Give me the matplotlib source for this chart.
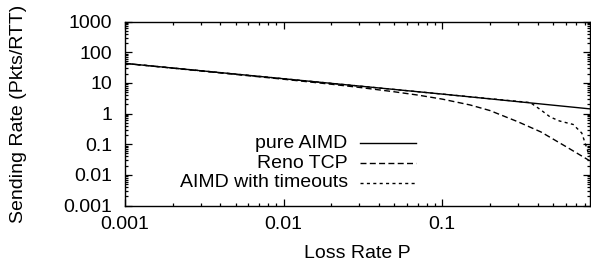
import matplotlib
matplotlib.use("Agg")
import matplotlib.pyplot as plt
from matplotlib.ticker import FixedLocator, LogLocator, NullFormatter, FuncFormatter

plt.rcParams["font.family"] = ["Liberation Sans", "DejaVu Sans"]

# ============================================================
# DATA
# ============================================================

loss_pure = [0.001, 0.01, 0.1, 0.85]
rate_pure = [43.0, 13.6, 4.3, 1.42]

loss_reno = [0.001, 0.01, 0.02, 0.03, 0.05, 0.07, 0.1, 0.15, 0.2, 0.3, 0.42, 0.6, 0.85]
rate_reno = [43.0, 13.1, 9.0, 7.1, 5.1, 4.0, 2.95, 1.9, 1.25, 0.54, 0.25, 0.085, 0.029]

loss_timeout = [0.001, 0.01, 0.1, 0.36, 0.42, 0.48, 0.55, 0.67, 0.76, 0.79, 0.85]
rate_timeout = [43.0, 13.6, 4.3, 2.27, 1.3, 0.77, 0.57, 0.44, 0.23, 0.126, 0.04]

series_labels = ["pure AIMD", "Reno TCP", "AIMD with timeouts"]

x_ticks = [0.001, 0.01, 0.1]
y_ticks = [0.001, 0.01, 0.1, 1, 10, 100, 1000]

# ============================================================
# FIGURE
# ============================================================

fig = plt.figure(figsize=(5.91, 2.66), dpi=100)
ax = fig.add_axes([125 / 591, 1 - 205.5 / 266, 464.5 / 591, 184 / 266])

styles = ["-", (0, (4.3, 2.4)), (0, (2.2, 2.4))]
data = [(loss_pure, rate_pure), (loss_reno, rate_reno), (loss_timeout, rate_timeout)]

for (xs, ys), ls in zip(data, styles):
    ax.plot(xs, ys, color="black", linewidth=1.0, linestyle=ls)

ax.set_xscale("log")
ax.set_yscale("log")
ax.set_xlim(0.001, 0.85)
ax.set_ylim(0.001, 1000)

fmt = FuncFormatter(lambda v, pos: "%g" % v)
ax.xaxis.set_major_locator(FixedLocator(x_ticks))
ax.yaxis.set_major_locator(FixedLocator(y_ticks))
ax.xaxis.set_major_formatter(fmt)
ax.yaxis.set_major_formatter(fmt)
ax.xaxis.set_minor_locator(LogLocator(base=10, subs=range(2, 10), numticks=20))
ax.yaxis.set_minor_locator(LogLocator(base=10, subs=range(2, 10), numticks=20))
ax.xaxis.set_minor_formatter(NullFormatter())
ax.yaxis.set_minor_formatter(NullFormatter())

ax.tick_params(which="both", direction="in", top=True, right=True,
               width=0.9, colors="black", labelsize=14)
ax.tick_params(which="major", length=5)
ax.tick_params(which="minor", length=2.5)
ax.tick_params(axis="x", pad=7.5)
ax.tick_params(axis="y", pad=9)

for sp in ax.spines.values():
    sp.set_linewidth(1.0)
    sp.set_color("black")

ax.set_xlabel("Loss Rate P", fontsize=14)
ax.set_ylabel("Sending Rate (Pkts/RTT)", fontsize=14)
ax.xaxis.set_label_coords(0.5, -0.215)
ax.yaxis.set_label_coords(-0.21, 0.5)

# ============================================================
# LEGEND (gnuplot style: right aligned text, sample on the right)
# ============================================================

text_right = 0.4795
sample_x = [0.5054, 0.6263]
row_y = [0.338, 0.229, 0.124]

for label, ls, y in zip(series_labels, styles, row_y):
    ax.text(text_right, y, label, transform=ax.transAxes, ha="right",
            va="center", fontsize=14)
    ax.plot(sample_x, [y, y], transform=ax.transAxes, color="black",
            linewidth=1.0, linestyle=ls, clip_on=False)

fig.savefig("out.png", dpi=100)
plt.close(fig)
